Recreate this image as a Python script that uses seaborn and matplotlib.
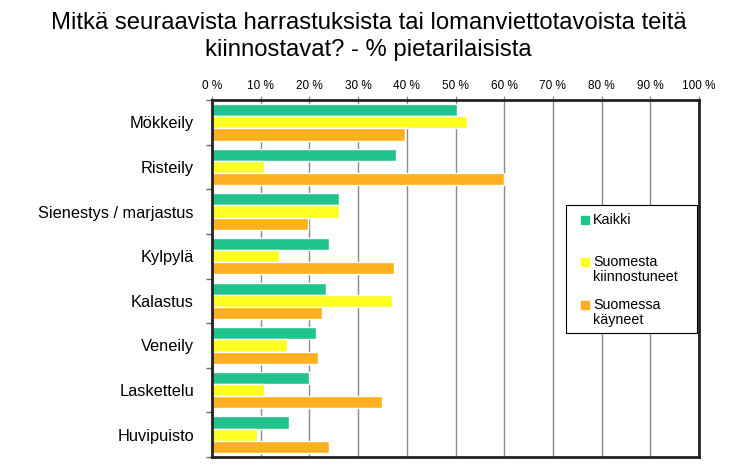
import pandas as pd
import matplotlib.pyplot as plt
import seaborn as sns
from matplotlib.patches import Rectangle
from matplotlib.ticker import MultipleLocator, FuncFormatter

categories = ['Mökkeily', 'Risteily', 'Sienestys / marjastus', 'Kylpylä',
              'Kalastus', 'Veneily', 'Laskettelu', 'Huvipuisto']
series = ['Kaikki', 'Suomesta\nkiinnostuneet', 'Suomessa\nkäyneet']
kaikki = [50.4, 37.7, 26.0, 24.0, 23.4, 21.3, 20.0, 15.9]
kiinnostuneet = [52.3, 10.7, 26.1, 13.8, 37.0, 15.3, 10.7, 9.2]
kayneet = [39.6, 60.0, 19.8, 37.3, 22.6, 21.7, 34.9, 24.0]
colors = ['#20C38A', '#FFFF22', '#FFB020']

rows = []
for name, vals in zip(series, [kaikki, kiinnostuneet, kayneet]):
    for cat, v in zip(categories, vals):
        rows.append({'cat': cat, 'ryhma': name, 'arvo': v})
df = pd.DataFrame(rows)

sns.set_style('white')
plt.rcParams['font.family'] = ['Liberation Sans', 'DejaVu Sans']
plt.rcParams['text.color'] = 'black'
plt.rcParams['xtick.labelcolor'] = 'black'
plt.rcParams['ytick.labelcolor'] = 'black'

W, H = 737, 469
fig = plt.figure(figsize=(W / 100, H / 100), dpi=100)
ax = fig.add_axes([212 / W, 1 - 457 / H, 487 / W, 357 / H])

sns.barplot(data=df, y='cat', x='arvo', hue='ryhma', orient='h',
            palette=colors, width=0.82, saturation=1, ax=ax, legend=False)

# Grid and axes
ax.set_xlim(0, 100)
ax.set_ylim(len(categories) - 0.5, -0.5)
ax.xaxis.set_major_locator(MultipleLocator(10))
ax.xaxis.set_major_formatter(FuncFormatter(lambda v, p: f'{int(v)} %'))
ax.xaxis.tick_top()
ax.grid(axis='x', color='#8a8a8a', linewidth=1)
ax.set_axisbelow(True)
ax.tick_params(axis='x', which='major', top=True, length=3, width=0.8,
               color='#888888', labelsize=8.5, pad=3)
ax.set_yticks([i - 0.5 for i in range(len(categories) + 1)], minor=True)
ax.set_yticks(range(len(categories)))
ax.set_yticklabels(categories, fontsize=11.8)
ax.tick_params(axis='y', which='major', length=0, pad=13)
ax.tick_params(axis='y', which='minor', left=True, length=4, width=1,
               color='#666666')
ax.set_xlabel('')
ax.set_ylabel('')
for side in ax.spines.values():
    side.set_visible(True)
    side.set_color('#222222')
    side.set_linewidth(2)

# Legend box drawn by hand so every entry gets the same slot
fig.patches.append(Rectangle((566 / W, 1 - 333 / H), 131 / W, 128 / H,
                             transform=fig.transFigure, fill=True,
                             facecolor='white', edgecolor='black',
                             linewidth=0.8, zorder=5))
entry_y = [220, 262, 305]
for name, c, y in zip(series, colors, entry_y):
    fig.add_artist(plt.Line2D([585 / W], [1 - y / H], marker='s',
                              markersize=5.5, color=c, linestyle='',
                              transform=fig.transFigure, zorder=6))
    fig.text(593 / W, 1 - (y - 7) / H, name, ha='left', va='top',
             fontsize=10.3, linespacing=1.1, zorder=6)

fig.text(0.5, 1 - 12 / H, 'Mitkä seuraavista harrastuksista tai lomanviettotavoista teitä\n'
         'kiinnostavat? - % pietarilaisista', ha='center', va='top',
         fontsize=17.2, linespacing=1.3)

fig.savefig('out.png', dpi=100)
